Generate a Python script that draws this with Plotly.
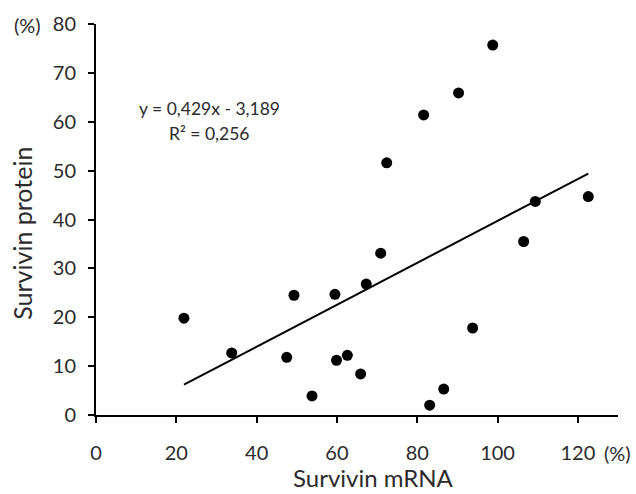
import plotly.graph_objects as go

# Survivin mRNA vs protein expression (%)
mrna = [21.9, 33.8, 47.5, 49.3, 53.8, 59.5, 59.9, 62.6, 65.9, 67.3, 70.9,
        83.1, 86.6, 93.8, 72.4, 81.6, 90.3, 98.8, 109.4, 122.6, 106.5]
protein = [19.8, 12.7, 11.8, 24.5, 3.9, 24.7, 11.2, 12.2, 8.4, 26.8, 33.1,
           2.0, 5.3, 17.8, 51.6, 61.4, 65.9, 75.7, 43.7, 44.7, 35.5]

slope = 0.429
intercept = -3.189
r_squared = 0.256

x_ticks = [0, 20, 40, 60, 80, 100, 120]
y_ticks = [0, 10, 20, 30, 40, 50, 60, 70, 80]

fit_x = [min(mrna), max(mrna)]
fit_y = [slope * v + intercept for v in fit_x]

font_family = "Lato, Open Sans, sans-serif"
text_color = "#2b2b2b"
label_font = dict(size=20, color=text_color, family=font_family)

fig = go.Figure()
fig.add_trace(go.Scatter(x=fit_x, y=fit_y, mode="lines",
                         line=dict(color="black", width=2), hoverinfo="skip"))
fig.add_trace(go.Scatter(x=mrna, y=protein, mode="markers",
                         marker=dict(color="black", size=11)))

# regression equation
eq_font = dict(size=17.5, color=text_color, family=font_family)
fig.add_annotation(x=28.2, y=62.8, xref="x", yref="y",
                   text=f"y = {slope:.3f}x - {abs(intercept):.3f}".replace(".", ","),
                   showarrow=False, font=eq_font)
fig.add_annotation(x=28.2, y=57.6, xref="x", yref="y",
                   text=f"R² = {r_squared:.3f}".replace(".", ","),
                   showarrow=False, font=eq_font)

# axis titles
fig.add_annotation(x=0.531, y=-0.159, xref="paper", yref="paper",
                   text="Survivin mRNA", showarrow=False,
                   xanchor="center", yanchor="middle",
                   font=dict(size=24, color=text_color, family=font_family))
fig.add_annotation(x=-0.1418, y=0.466, xref="paper", yref="paper",
                   text="Survivin protein", showarrow=False, textangle=-90,
                   xanchor="center", yanchor="middle",
                   font=dict(size=25, color=text_color, family=font_family))

# unit labels next to the axis ends
fig.add_annotation(x=-0.161, y=0.997, xref="paper", yref="paper", text="(%)",
                   showarrow=False, xanchor="left", yanchor="middle", font=label_font)
fig.add_annotation(x=1.029, y=-0.097, xref="paper", yref="paper", text="(%)",
                   showarrow=False, xanchor="right", yanchor="middle", font=label_font)

axis_common = dict(showline=True, linecolor="black", linewidth=2, ticks="outside",
                   ticklen=6, tickwidth=2, tickcolor="black", showgrid=False,
                   zeroline=False, automargin=False, tickfont=label_font)

fig.update_xaxes(range=[0, 130], tickvals=x_ticks, ticklabelstandoff=13, **axis_common)
fig.update_yaxes(range=[0, 80], tickvals=y_ticks, ticklabelstandoff=8, **axis_common)

fig.update_layout(width=636, height=494, showlegend=False,
                  plot_bgcolor="white", paper_bgcolor="white",
                  margin=dict(l=96, r=18, t=24, b=79))

fig.write_html("out.html")
